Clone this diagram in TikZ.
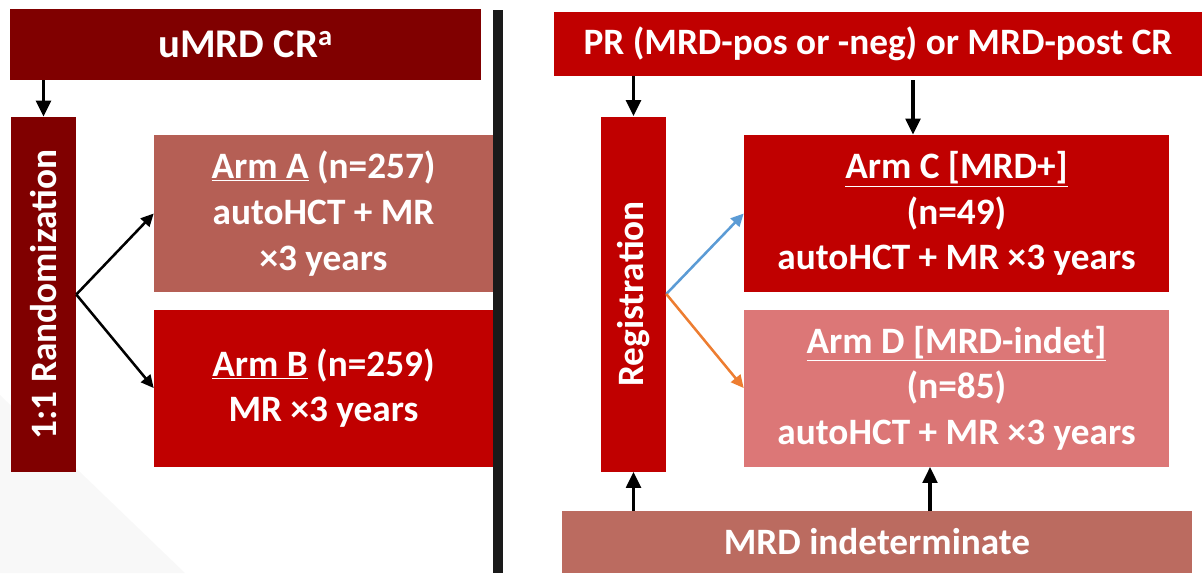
\documentclass[tikz,border=0pt]{standalone}
\usepackage{fontspec}
\setmainfont{Carlito}
\usetikzlibrary{arrows.meta,positioning}
\definecolor{umrdred}{HTML}{800000}
\definecolor{armred}{HTML}{C00000}
\definecolor{armbrown}{HTML}{B55F55}
\definecolor{armpink}{HTML}{DC7777}
\definecolor{indetred}{HTML}{BB6B60}
\definecolor{divgray}{HTML}{1A1A1A}
\definecolor{fadegray}{HTML}{F8F8F8}
\definecolor{bluearr}{HTML}{5B9BD5}
\definecolor{orangearr}{HTML}{ED7D31}
\newlength{\px}
\setlength{\px}{0.025cm}

\begin{document}
\begin{tikzpicture}[x=0.025cm,y=-0.025cm,node distance=0.425cm,
		box/.style={rectangle,inner sep=0pt,text=white,align=center,
			font=\bfseries\fontsize{26.5}{32.5}\selectfont},
		armbox/.style={box,minimum width=339\px,minimum height=157\px},
		armwide/.style={box,minimum width=425\px,minimum height=157\px},
		tallbox/.style={box,minimum width=65\px,minimum height=355\px},
		arr/.style={-{Triangle[length=0.4cm,width=0.36cm]},line width=2.6pt,black},
		diag/.style={-{Triangle[length=0.32cm,width=0.3cm]},line width=1.8pt}]
		\useasboundingbox (0,0) rectangle (1202,573);
		\fill[fadegray] (0,395) -- (185,573) -- (0,573) -- cycle;
		
		% left half
		\node[box,fill=umrdred,minimum width=471\px,minimum height=71\px,
			font=\bfseries\fontsize{29}{35}\selectfont] (umrd) at (245.5,44.5) {uMRD CR\textsuperscript{a}};
		\node[tallbox,fill=umrdred] (rand) at (43.5,294.5) {\rotatebox{90}{1:1 Randomization}};
		\node[armbox,fill=armbrown] (armA) at (323.5,213.5) {\underline{Arm A} (n=257)\\autoHCT + MR\\×3 years};
		\node[armbox,fill=armred]   (armB) [below=of armA] {\underline{Arm B} (n=259)\\MR ×3 years};
		
		\fill[divgray] (493,10) rectangle (503,573);
		
		% right half
		\node[box,fill=armred,minimum width=648\px,minimum height=64\px] (prhead) at (878,44) {PR (MRD-pos or -neg) or MRD-post CR};
		\node[tallbox,fill=armred] (reg) at (633.5,294) {\rotatebox{90}{Registration}};
		\node[armwide,fill=armred]  (armC) at (956.5,213.5) {\underline{Arm C [MRD+]}\\(n=49)\\autoHCT + MR ×3 years};
		\node[armwide,fill=armpink] (armD) [below=of armC] {\underline{Arm D [MRD-indet]}\\(n=85)\\autoHCT + MR ×3 years};
		\node[box,fill=indetred,minimum width=630\px,minimum height=62\px] (indet) at (877,542) {MRD indeterminate};
		
		\coordinate (ctop) at (913,80);
		\coordinate (dbot) at (930,511);
		
		\draw[arr] (rand.north |- umrd.south) -- (rand.north);
		\draw[diag] (rand.east) -- (armA.west);
		\draw[diag] (rand.east) -- (armB.west);
		
		\draw[arr] (reg.north |- prhead.south) -- (reg.north);
		\draw[arr] (ctop) -- (ctop |- armC.north);
		\draw[diag,bluearr] (reg.east) -- (armC.west);
		\draw[diag,orangearr] (reg.east) -- (armD.west);
		\draw[arr] (reg.south |- indet.north) -- (reg.south);
		\draw[arr] (dbot) -- (dbot |- armD.south);
\end{tikzpicture}
\end{document}
